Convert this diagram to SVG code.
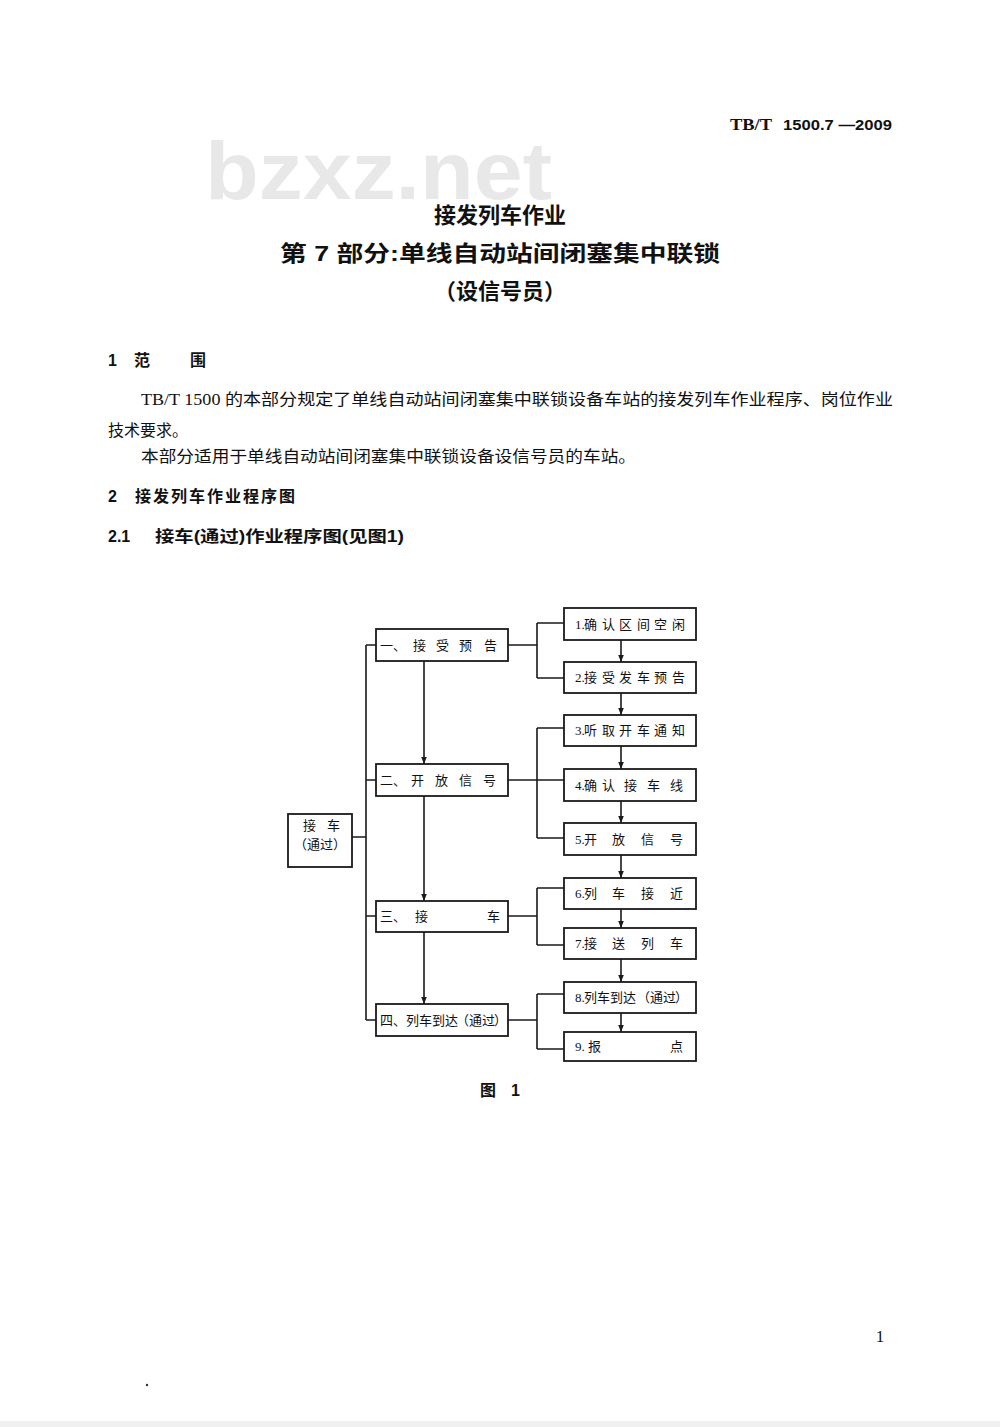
<svg xmlns="http://www.w3.org/2000/svg" width="1000" height="1427" viewBox="0 0 1000 1427">
<style>
.box{fill:#fff;stroke:#1a1a1a;stroke-width:1.8}
.ln{fill:none;stroke:#1a1a1a;stroke-width:1.6}
.t{font-family:"Liberation Serif","Noto Sans CJK SC",serif;font-size:13px;fill:#111}
.h{font-family:"Liberation Sans","Noto Sans CJK SC",sans-serif;font-weight:bold;fill:#111}
.b{font-family:"Liberation Serif","Noto Sans CJK SC",serif;font-size:16px;fill:#111}
</style>
<defs>
<marker id="ar" viewBox="0 0 10 10" refX="10" refY="5" markerWidth="7" markerHeight="7" orient="auto" markerUnits="userSpaceOnUse">
<path d="M0,1 L10,5 L0,9 z" fill="#1a1a1a"/>
</marker>
</defs>
<rect width="1000" height="1427" fill="#fff"/>
<rect x="0" y="1421" width="1000" height="6" fill="#f0f0f0"/>
<text x="205" y="199" font-family="Liberation Sans, sans-serif" font-weight="bold" font-size="82" fill="#e8e8e8" textLength="347" lengthAdjust="spacingAndGlyphs">bzxz.net</text>
<text x="730" y="130" font-family="Liberation Serif, serif" font-weight="bold" font-size="17" fill="#111" textLength="42" lengthAdjust="spacingAndGlyphs">TB/T</text>
<text class="h" x="783" y="130" font-size="15" textLength="109" lengthAdjust="spacingAndGlyphs">1500.7 —2009</text>
<text class="h" x="500" y="223" font-size="22" text-anchor="middle">接发列车作业</text>
<text class="h" x="280" y="261" font-size="22" textLength="440" lengthAdjust="spacingAndGlyphs">第 7 部分:单线自动站间闭塞集中联锁</text>
<text class="h" x="500" y="299" font-size="22" text-anchor="middle">（设信号员）</text>
<text class="h" x="108" y="366" font-size="16">1<tspan x="134">范</tspan><tspan x="190">围</tspan></text>
<text class="b" x="141" y="405" textLength="752" lengthAdjust="spacingAndGlyphs">TB/T 1500 的本部分规定了单线自动站间闭塞集中联锁设备车站的接发列车作业程序、岗位作业</text>
<text class="b" x="108" y="436">技术要求。</text>
<text class="b" x="141" y="462" textLength="495" lengthAdjust="spacingAndGlyphs">本部分适用于单线自动站间闭塞集中联锁设备设信号员的车站。</text>
<text class="h" x="108" y="502" font-size="16">2</text>
<text class="h" x="135" y="502" font-size="16" textLength="160" lengthAdjust="spacing">接发列车作业程序图</text>
<text class="h" x="108" y="542" font-size="16">2.1</text>
<text class="h" x="155" y="542" font-size="16" textLength="249" lengthAdjust="spacingAndGlyphs">接车(通过)作业程序图(见图1)</text>

<g id="connectors">
<path class="ln" d="M352,837 H366 M366,645 V1020 M366,645 H376 M366,780 H376 M366,916 H376 M366,1020 H376"/>
<path class="ln" d="M508,645 H537 M537,623 V678 M537,623 H564 M537,678 H564"/>
<path class="ln" d="M508,780 H564 M537,728 V838 M537,728 H564 M537,838 H564"/>
<path class="ln" d="M508,916 H537 M537,888 V945 M537,888 H564 M537,945 H564"/>
<path class="ln" d="M508,1020 H537 M537,994 V1049 M537,994 H564 M537,1049 H564"/>
<line class="ln" x1="424" y1="661" x2="424" y2="764" marker-end="url(#ar)"/>
<line class="ln" x1="424" y1="796" x2="424" y2="901" marker-end="url(#ar)"/>
<line class="ln" x1="424" y1="932" x2="424" y2="1004" marker-end="url(#ar)"/>
<line class="ln" x1="621" y1="640" x2="621" y2="662" marker-end="url(#ar)"/>
<line class="ln" x1="621" y1="693" x2="621" y2="715" marker-end="url(#ar)"/>
<line class="ln" x1="621" y1="746" x2="621" y2="769" marker-end="url(#ar)"/>
<line class="ln" x1="621" y1="801" x2="621" y2="823" marker-end="url(#ar)"/>
<line class="ln" x1="621" y1="855" x2="621" y2="878" marker-end="url(#ar)"/>
<line class="ln" x1="621" y1="909" x2="621" y2="928" marker-end="url(#ar)"/>
<line class="ln" x1="621" y1="959" x2="621" y2="982" marker-end="url(#ar)"/>
<line class="ln" x1="621" y1="1013" x2="621" y2="1032" marker-end="url(#ar)"/>
</g>

<g id="n-root">
<rect class="box" x="288" y="814" width="64" height="53"/>
<text class="t" x="303" y="830">接<tspan x="327">车</tspan></text>
<text class="t" x="320" y="849" text-anchor="middle">（通过）</text>
</g>
<g id="n-a">
<rect class="box" x="376" y="629" width="132" height="32"/>
<text class="t" x="380" y="650">一、<tspan x="413">接</tspan><tspan x="436">受</tspan><tspan x="459">预</tspan><tspan x="484">告</tspan></text>
</g>
<g id="n-b">
<rect class="box" x="376" y="764" width="132" height="32"/>
<text class="t" x="380" y="785">二、<tspan x="411">开</tspan><tspan x="435">放</tspan><tspan x="459">信</tspan><tspan x="483">号</tspan></text>
</g>
<g id="n-c">
<rect class="box" x="376" y="901" width="132" height="31"/>
<text class="t" x="380" y="921">三、<tspan x="415">接</tspan><tspan x="487">车</tspan></text>
</g>
<g id="n-d">
<rect class="box" x="376" y="1004" width="132" height="32"/>
<text class="t" x="380" y="1025">四、列车到达<tspan x="456">（</tspan><tspan x="469">通过</tspan><tspan x="494">）</tspan></text>
</g>
<g id="n1">
<rect class="box" x="564" y="608" width="132" height="32"/>
<text class="t" x="575" y="629">1.<tspan x="584">确</tspan><tspan x="602">认</tspan><tspan x="619">区</tspan><tspan x="637">间</tspan><tspan x="654">空</tspan><tspan x="672">闲</tspan></text>
</g>
<g id="n2">
<rect class="box" x="564" y="662" width="132" height="31"/>
<text class="t" x="575" y="682">2.<tspan x="584">接</tspan><tspan x="602">受</tspan><tspan x="619">发</tspan><tspan x="637">车</tspan><tspan x="654">预</tspan><tspan x="672">告</tspan></text>
</g>
<g id="n3">
<rect class="box" x="564" y="715" width="132" height="31"/>
<text class="t" x="575" y="735">3.<tspan x="584">听</tspan><tspan x="602">取</tspan><tspan x="619">开</tspan><tspan x="637">车</tspan><tspan x="654">通</tspan><tspan x="672">知</tspan></text>
</g>
<g id="n4">
<rect class="box" x="564" y="769" width="132" height="32"/>
<text class="t" x="575" y="790">4.<tspan x="584">确</tspan><tspan x="602">认</tspan><tspan x="624">接</tspan><tspan x="647">车</tspan><tspan x="670">线</tspan></text>
</g>
<g id="n5">
<rect class="box" x="564" y="823" width="132" height="32"/>
<text class="t" x="575" y="844">5.<tspan x="584">开</tspan><tspan x="612">放</tspan><tspan x="641">信</tspan><tspan x="670">号</tspan></text>
</g>
<g id="n6">
<rect class="box" x="564" y="878" width="132" height="31"/>
<text class="t" x="575" y="898">6.<tspan x="584">列</tspan><tspan x="612">车</tspan><tspan x="641">接</tspan><tspan x="670">近</tspan></text>
</g>
<g id="n7">
<rect class="box" x="564" y="928" width="132" height="31"/>
<text class="t" x="575" y="948">7.<tspan x="584">接</tspan><tspan x="612">送</tspan><tspan x="641">列</tspan><tspan x="670">车</tspan></text>
</g>
<g id="n8">
<rect class="box" x="564" y="982" width="132" height="31"/>
<text class="t" x="575" y="1002">8.<tspan x="584">列车到达</tspan><tspan x="637">（</tspan><tspan x="650">通过</tspan><tspan x="675">）</tspan></text>
</g>
<g id="n9">
<rect class="box" x="564" y="1032" width="132" height="29"/>
<text class="t" x="575" y="1051">9.<tspan x="588">报</tspan><tspan x="670">点</tspan></text>
</g>

<text class="h" x="480" y="1096" font-size="16">图<tspan x="511">1</tspan></text>
<text x="880" y="1342" font-family="Liberation Serif, serif" font-size="17" fill="#111" text-anchor="middle">1</text>
<circle cx="147" cy="1385" r="1.2" fill="#333"/>
</svg>
